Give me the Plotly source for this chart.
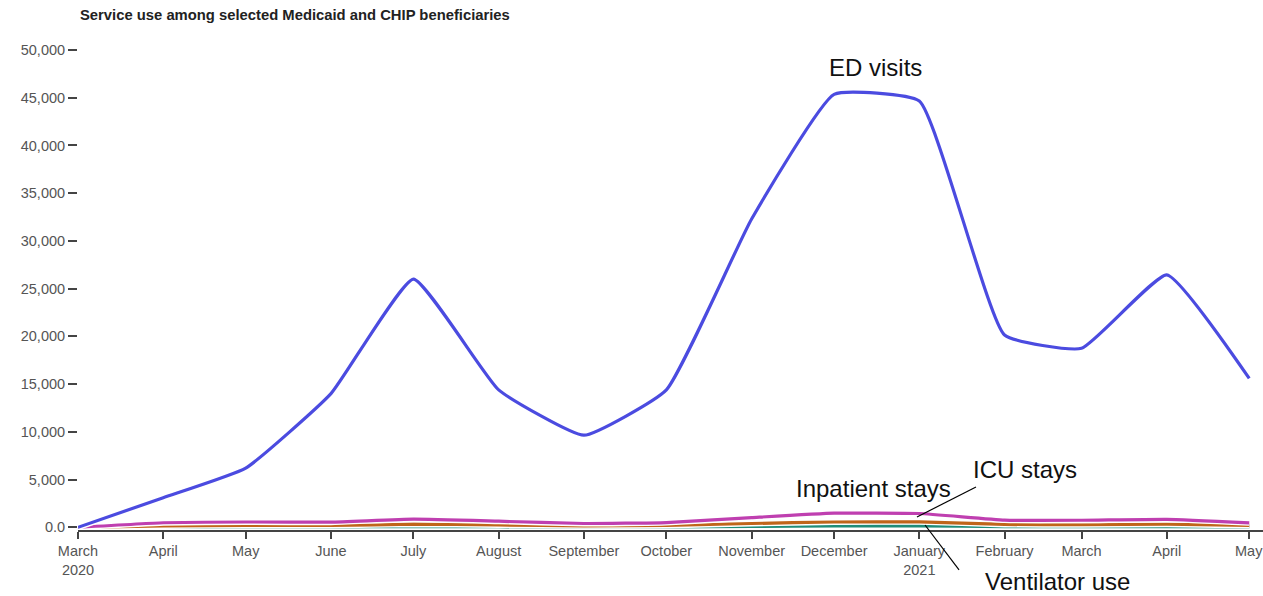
import plotly.graph_objects as go

months = ["2020-03-01", "2020-04-01", "2020-05-01", "2020-06-01", "2020-07-01",
          "2020-08-01", "2020-09-01", "2020-10-01", "2020-11-01", "2020-12-01",
          "2021-01-01", "2021-02-01", "2021-03-01", "2021-04-01", "2021-05-01"]

ed_visits = [0, 3100, 6200, 14000, 26000, 14400, 9650, 14400, 32300, 45350,
             44650, 20150, 18750, 26450, 15600]
inpatient_stays = [0, 480, 560, 540, 850, 640, 400, 500, 1020, 1480,
                   1450, 760, 740, 840, 470]
icu_stays = [0, 150, 200, 200, 330, 250, 160, 200, 400, 560,
             580, 300, 270, 320, 200]
ventilator_use = [0, 40, 50, 50, 80, 60, 40, 50, 100, 140,
                  150, 80, 70, 80, 50]

x_tick_vals = months
x_tick_text = ["March<br>2020", "April", "May", "June", "July", "August",
               "September", "October", "November", "December",
               "January<br>2021", "February", "March", "April", "May"]

y_tick_vals = [0, 5000, 10000, 15000, 20000, 25000, 30000, 35000, 40000, 45000, 50000]
y_tick_text = ["0.0", "5,000", "10,000", "15,000", "20,000", "25,000",
               "30,000", "35,000", "40,000", "45,000", "50,000"]

series = [
    ("Ventilator use", ventilator_use, "#1f8c78"),
    ("ICU stays", icu_stays, "#c0651a"),
    ("Inpatient stays", inpatient_stays, "#bf3fb0"),
    ("ED visits", ed_visits, "#4b4be0"),
]

SMOOTH = 0.4
TICK_FONT = dict(family="Arial, Liberation Sans, sans-serif", size=14.5, color="#555555")

fig = go.Figure()
for name, vals, color in series:
    fig.add_trace(go.Scatter(x=months, y=vals, mode="lines", showlegend=False,
                             line=dict(color="white", width=6, shape="spline", smoothing=SMOOTH),
                             hoverinfo="skip"))
    fig.add_trace(go.Scatter(x=months, y=vals, mode="lines", name=name, showlegend=False,
                             line=dict(color=color, width=3.2, shape="spline", smoothing=SMOOTH)))

# the last tick label sits on the page edge; Plotly would drop it, so it is drawn as an annotation
shown_tick_text = x_tick_text[:-1] + [""]

W, H = 1263, 596
fig.update_layout(
    width=W, height=H,
    margin=dict(l=78, r=0, t=50, b=66, autoexpand=False),
    paper_bgcolor="white", plot_bgcolor="white",
    font=TICK_FONT,
    title=dict(text="<b>Service use among selected Medicaid and CHIP beneficiaries</b>",
               x=80 / W, xanchor="left", y=1 - 15 / H, yanchor="middle",
               font=dict(size=14.8, color="#222222")),
    xaxis=dict(type="date", range=["2020-03-01", "2021-05-06"],
               tickvals=x_tick_vals, ticktext=shown_tick_text, automargin=False,
               ticks="outside", ticklen=7, tickwidth=1.5, tickcolor="#444444",
               showline=True, linecolor="#444444", linewidth=1.5,
               showgrid=False, zeroline=False, tickangle=0,
               tickfont=TICK_FONT),
    yaxis=dict(range=[-280, 50000], tickvals=y_tick_vals, ticktext=y_tick_text,
               automargin=False,
               ticks="outside", ticklen=9, tickwidth=1.5, tickcolor="#444444",
               showline=False, showgrid=False, zeroline=False,
               tickfont=TICK_FONT),
)

fig.add_annotation(x=x_tick_vals[-1], y=-0.0435, xref="x", yref="paper",
                   text=x_tick_text[-1], showarrow=False, font=TICK_FONT,
                   xanchor="center", yanchor="middle")

annot_font = dict(family="Arial, Liberation Sans, sans-serif", size=24, color="#111111")
labels = [
    ("ED visits", 0.6734, 0.9625),
    ("Inpatient stays", 0.6709, 0.0875),
    ("ICU stays", 0.7992, 0.127),
    ("Ventilator use", 0.8262, -0.108),
]
for text, px, py in labels:
    fig.add_annotation(x=px, y=py, xref="paper", yref="paper", text=text, showarrow=False,
                       font=annot_font, xanchor="center", yanchor="middle")

leaders = [
    (0.7578, 0.0896, 0.708, 0.0271),
    (0.7148, 0.0104, 0.7435, -0.0833),
]
for x0, y0, x1, y1 in leaders:
    fig.add_shape(type="line", xref="paper", yref="paper", x0=x0, y0=y0, x1=x1, y1=y1,
                  line=dict(color="black", width=1.2))

page_css = ("document.body.style.margin='0';"
            "document.body.style.overflow='hidden';"
            "document.documentElement.style.overflow='hidden';")
fig.write_html("out.html", post_script=page_css, config={"displayModeBar": False})
